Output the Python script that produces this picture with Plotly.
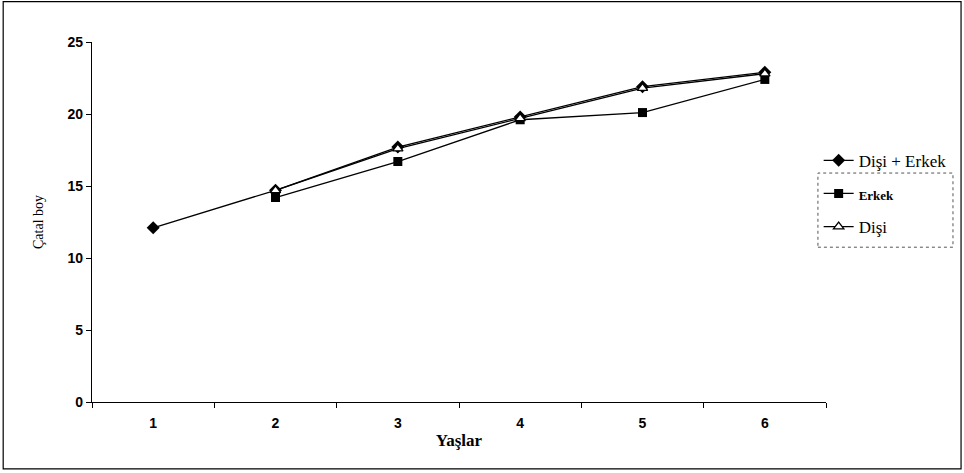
import plotly.graph_objects as go

# Age classes and mean fork length per group
ages = ["1", "2", "3", "4", "5", "6"]
disi_erkek = [12.1, 14.7, 17.7, 19.8, 21.9, 22.9]
erkek = [None, 14.2, 16.7, 19.6, 20.1, 22.4]
disi = [None, 14.7, 17.6, 19.7, 21.8, 22.8]
y_ticks = [0, 5, 10, 15, 20, 25]

serif = "Liberation Serif, Times New Roman, serif"
sans = "Liberation Sans, Arial, sans-serif"

fig = go.Figure()
fig.add_trace(go.Scatter(
    x=ages, y=disi_erkek, name="Dişi + Erkek", mode="lines+markers",
    legendgroup="a",
    line=dict(color="black", width=1.3),
    marker=dict(symbol="diamond", size=10, color="black"),
))
fig.add_trace(go.Scatter(
    x=ages, y=erkek, name="<b><span style='font-size:13px'>Erkek</span></b>",
    mode="lines+markers", legendgroup="b",
    line=dict(color="black", width=1.3),
    marker=dict(symbol="square", size=9, color="black"),
))
fig.add_trace(go.Scatter(
    x=ages, y=disi, name="Dişi", mode="lines+markers",
    legendgroup="c",
    line=dict(color="black", width=1.3),
    marker=dict(symbol="triangle-up", size=9, color="white",
                line=dict(color="black", width=1.3)),
))

fig.update_layout(
    width=964, height=473,
    margin=dict(l=92, r=138, t=42, b=71),
    paper_bgcolor="white", plot_bgcolor="white",
    showlegend=True,
    legend=dict(
        x=0.99, y=0.72, xanchor="left", yanchor="top",
        font=dict(family=serif, size=17, color="black"),
        bgcolor="rgba(0,0,0,0)", itemwidth=30, tracegroupgap=8,
    ),
    xaxis=dict(
        type="category", categoryorder="array", categoryarray=ages,
        range=[-0.5, 5.5], tickson="boundaries",
        ticks="outside", ticklen=5, tickcolor="black",
        showline=True, linecolor="black", linewidth=1.3,
        showgrid=False, zeroline=False, ticklabelstandoff=8,
        tickfont=dict(family=sans, size=14, color="black", weight="bold"),
        title=dict(text="Yaşlar", font=dict(family=serif, size=17, color="black", weight="bold"),
                   standoff=4),
    ),
    yaxis=dict(
        range=[0, 25], tickvals=y_ticks,
        ticks="outside", ticklen=5, tickcolor="black",
        showline=True, linecolor="black", linewidth=1.3,
        showgrid=False, zeroline=False,
        tickfont=dict(family=sans, size=14, color="black", weight="bold"),
        title=dict(text="Çatal boy", font=dict(family=serif, size=14, color="black"),
                   standoff=20),
    ),
    shapes=[
        # outer frame of the chart
        dict(type="rect", xref="paper", yref="paper",
             x0=-0.121, x1=1.184, y0=-0.186, y1=1.112,
             line=dict(color="black", width=1.2)),
        # dotted box around the lower legend entries
        dict(type="rect", xref="paper", yref="paper",
             x0=0.989, x1=1.173, y0=0.43, y1=0.636,
             line=dict(color="#555", width=1, dash="dot")),
    ],
)

fig.write_html("out.html")
